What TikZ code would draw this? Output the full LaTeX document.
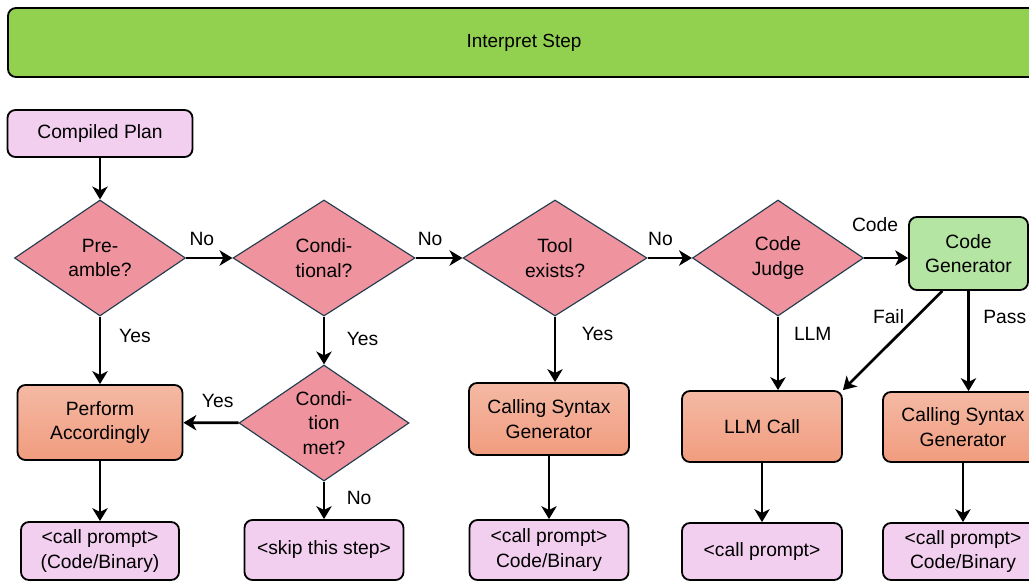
\documentclass[tikz,border=0pt]{standalone}
\usepackage{fontspec}
\setmainfont{Liberation Sans}
\usepackage{xcolor}
\definecolor{stepgreen}{HTML}{92D050}
\definecolor{promptpink}{HTML}{F2CEEF}
\definecolor{decisionred}{HTML}{EF949F}
\definecolor{decisionline}{HTML}{1F3B4D}
\definecolor{actiontop}{HTML}{F4B9A4}
\definecolor{actionbottom}{HTML}{F19C7E}
\definecolor{codegreen}{HTML}{B4E5A2}
\usetikzlibrary{shapes.geometric, positioning, arrows.meta}

\begin{document}
\begin{tikzpicture}
[-{Stealth[length=3.2mm,width=3.8mm,inset=0.9mm]},
 line width=1.9pt,
 node distance=3cm, on grid,
 every node/.style={font=\fontsize{13.7}{17.5}\selectfont},
 box/.style={draw=black, line width=1.3pt, rounded corners=2mm,
  align=center, inner sep=0pt},
 prompt/.style={box, fill=promptpink, minimum width=4cm, minimum height=1.45cm},
 action/.style={box, top color=actiontop, bottom color=actionbottom,
  minimum width=4cm, minimum height=1.8cm},
 decision/.style={diamond, draw=decisionline, line width=0.8pt,
  fill=decisionred, shape aspect=1.47, inner sep=0pt, align=center,
  minimum height=2.9cm},
]

\useasboundingbox (0,0) rectangle (25.725,-14.55);

\node[prompt, minimum width=4.625cm, minimum height=1.175cm] (plan) at (2.5,-3.3375) {Compiled Plan};
\node[box, fill=stepgreen, minimum width=25.8cm, minimum height=1.725cm,
  font=\fontsize{13.5}{16}\selectfont, above right=2.275cm and 10.6cm of plan] (step) {Interpret Step};

\node[decision, minimum width=4.275cm, below=3.1125cm of plan] (pre) {Pre-\\amble?};
\node[decision, minimum width=4.55cm, right=5.6cm of pre] (cond) {Condi-\\tional?};
\node[decision, minimum width=4.6cm, right=5.775cm of cond] (tool) {Tool\\exists?};
\node[decision, minimum width=4.275cm, right=5.575cm of tool] (judge) {Code\\Judge};
\node[box, fill=codegreen, minimum width=2.975cm, minimum height=1.825cm,
  above right=0.1125cm and 4.7625cm of judge] (codegen) {Code\\Generator};

\node[action, minimum width=4.125cm, minimum height=1.875cm, below=4.1125cm of pre] (perform) {Perform\\Accordingly};
\node[decision, minimum width=4.25cm, below=4.125cm of cond] (met) {Condi-\\tion\\met?};
\node[action, minimum height=1.8cm, below left=4.025cm and 0.15cm of tool] (csgA) {Calling Syntax\\Generator};
\node[action, minimum height=1.775cm, below left=4.2125cm and 0.4cm of judge] (llm) {LLM Call};
\node[action, minimum height=1.75cm, below left=4.3375cm and 0.1375cm of codegen] (csgB) {Calling Syntax\\Generator};

\node[prompt, minimum width=3.95cm, below=3.2125cm of perform] (callA) {<call prompt>\\(Code/Binary)};
\node[prompt, minimum width=3.975cm, minimum height=1.5cm, below=3.175cm of met] (skip) {<skip this step>};
\node[prompt, minimum width=3.975cm, minimum height=1.5cm, below=3.275cm of csgA] (callB) {<call prompt>\\Code/Binary};
\node[prompt, minimum height=1.425cm, below=3.125cm of llm] (callC) {<call prompt>};
\node[prompt, minimum height=1.425cm, below=3.1125cm of csgB] (callD) {<call prompt>\\Code/Binary};

\draw
(plan)  edge (pre)
(pre)   edge node[above, pos=0.34, yshift=1.5mm] {No} (cond)
(cond)  edge node[above, pos=0.31, yshift=1.5mm] {No} (tool)
(tool)  edge node[above, pos=0.29, yshift=1.5mm] {No} (judge)

(pre)   edge node[right, pos=0.29, xshift=3.3mm] {Yes} (perform)
(cond)  edge node[right, pos=0.46, xshift=4.2mm] {Yes} (met)
(met)   edge node[above, pos=0.38, yshift=2.2mm] {Yes} (perform)
(met)   edge node[right, pos=0.45, xshift=4.2mm] {No} (skip)

(perform) edge (callA)
(csgA)    edge (callB)
(llm)     edge (callC)
(csgB)    edge (callD);

% off-centre connectors
\draw (judge.east) -- node[above, pos=0.25, yshift=5mm] {Code} (judge.east -| codegen.west);
\draw (tool.south) -- node[right, pos=0.26, xshift=5.2mm] {Yes} (tool.south |- csgA.north);
\draw (judge.south) -- node[right, pos=0.23, xshift=2.5mm] {LLM} (judge.south |- llm.north);
\draw (codegen.-125) -- node[left, pos=0.26, xshift=-1.6mm] {Fail} (llm.north east);
\draw (codegen.south) -- node[right, pos=0.26, xshift=2.2mm] {Pass} (codegen.south |- csgB.north);
\end{tikzpicture}
\end{document}
